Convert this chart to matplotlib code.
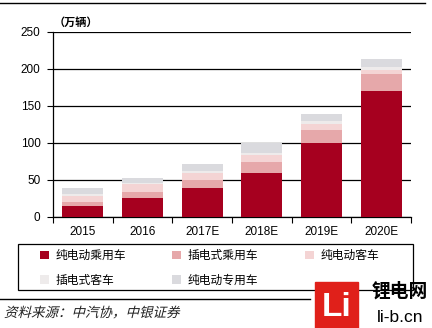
import numpy as np
import matplotlib.pyplot as plt
from matplotlib.patches import Rectangle, PathPatch
from matplotlib.lines import Line2D
from matplotlib.textpath import TextPath
from matplotlib.font_manager import FontProperties
from matplotlib.transforms import Affine2D

plt.rcParams['font.family'] = ['Liberation Sans', 'Noto Sans CJK SC', 'DejaVu Sans']

# 新能源汽车销量 (万辆)
years = ['2015', '2016', '2017E', '2018E', '2019E', '2020E']
series_names = ['纯电动乘用车', '插电式乘用车', '纯电动客车', '插电式客车', '纯电动专用车']
bev_car = [14.6, 25.5, 38, 59, 100, 170]
phev_car = [4.6, 7.5, 11, 14, 17, 22]
bev_bus = [8.8, 11, 10, 10, 8, 6]
phev_bus = [2.5, 1.5, 2, 3, 4, 4]
bev_special = [8, 6.5, 10, 13, 9.5, 10.5]
colors = ['#A6001F', '#E6A8AA', '#F4D4D4', '#EEEBEB', '#DADADE']

W, H = 432, 328
fig = plt.figure(figsize=(W / 100, H / 100), dpi=100)
ax = fig.add_axes([53 / W, 1 - 216.5 / H, 358 / W, 185 / H])

x = np.arange(len(years))
bottom = np.zeros(len(years))
bars = []
for vals, name, c in zip([bev_car, phev_car, bev_bus, phev_bus, bev_special], series_names, colors):
    b = ax.bar(x, vals, width=0.69, bottom=bottom, color=c, label=name, zorder=3)
    bars.append(b)
    bottom += np.array(vals)

ax.set_xlim(-0.5, len(years) - 0.5)
ax.set_ylim(0, 250)
ax.set_yticks([0, 50, 100, 150, 200, 250])
ax.set_xticks(x)
ax.set_xticklabels(years)
ax.set_xticks(np.arange(len(years) + 1) - 0.5, minor=True)
ax.tick_params(axis='x', which='major', length=0, labelsize=8.5, pad=7)
ax.tick_params(axis='x', which='minor', length=4, width=0.8, direction='out')
ax.tick_params(axis='y', length=4, width=0.8, labelsize=8.5, pad=5)
ax.grid(axis='y', color='black', linewidth=0.9, zorder=0)
for s in ['top', 'right']:
    ax.spines[s].set_visible(False)
ax.spines['left'].set_linewidth(0.9)
ax.spines['bottom'].set_linewidth(0.9)

fig.text(54 / W, 1 - 22 / H, '（万辆）', fontsize=8, fontweight='bold',
         family=['Noto Sans CJK SC'], va='center')

# legend box drawn separately, entries in row-wise order over 3 columns
fig.add_artist(Rectangle((18 / W, 38 / H), 395 / W, 46 / H, transform=fig.transFigure,
                         fill=False, edgecolor='black', linewidth=0.9))
order = [0, 3, 1, 4, 2]
handles = [bars[i] for i in order]
labels = [series_names[i] for i in order]
leg = fig.legend(handles, labels, loc='upper left', bbox_to_anchor=(40 / W, 1 - 249 / H),
                 ncol=3, frameon=False, borderpad=0, borderaxespad=0,
                 handlelength=0.75, handleheight=0.75, handletextpad=0.55,
                 columnspacing=3.95, labelspacing=1.0,
                 prop={'family': ['Noto Sans CJK SC'], 'size': 8.5})

# header / footer rules
fig.add_artist(Line2D([0, 425 / W], [1 - 3 / H, 1 - 3 / H], color='black', linewidth=1))
fig.add_artist(Line2D([0, 310 / W], [1 - 299 / H, 1 - 299 / H], color='black', linewidth=1))

# slanted source note
src = TextPath((0, 0), '资料来源：中汽协，中银证券', size=13.5,
               prop=FontProperties(family='Noto Sans CJK SC'))
src_tf = Affine2D().skew_deg(14, 0).translate(4, H - 317) + fig.dpi_scale_trans.frozen().scale(1 / fig.dpi)
fig.add_artist(PathPatch(src, transform=src_tf, color='#222222', linewidth=0))

# logo
fig.add_artist(Rectangle((315 / W, 0), 43 / W, 46 / H, transform=fig.transFigure,
                         color='#E0201A', zorder=5))
fig.text(336.5 / W, 21 / H, 'Li', fontsize=24, fontweight='bold', color='white',
         ha='center', va='center', zorder=6)
fig.text(400 / W, 1 - 291 / H, '锂电网', fontsize=13.5, fontweight='bold',
         family=['Noto Sans CJK SC'], ha='center', va='center')
fig.text(400 / W, 1 - 318 / H, 'li-b.cn', fontsize=12.5, ha='center', va='center')

fig.savefig('out.png', dpi=100)
